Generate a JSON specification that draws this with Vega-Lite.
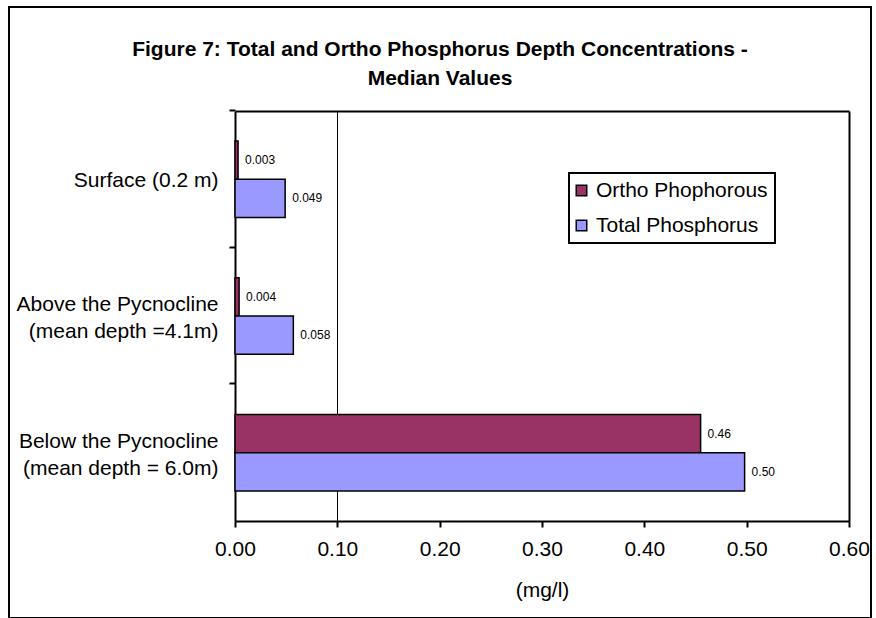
{
  "$schema": "https://vega.github.io/schema/vega-lite/v6.json",
  "width": 862,
  "height": 611,
  "autosize": {"type": "none"},
  "padding": {"left": 9, "top": 7, "right": 5, "bottom": 0},
  "background": "white",
  "title": {
    "text": ["Figure 7: Total and Ortho Phosphorus Depth Concentrations -", "Median Values"],
    "font": "Liberation Sans",
    "fontSize": 21,
    "fontWeight": "bold",
    "color": "black",
    "anchor": "middle",
    "frame": "group",
    "baseline": "alphabetic",
    "lineHeight": 29,
    "offset": -99
  },
  "data": {
    "values": [
      {"depth": "Surface (0.2 m)", "series": "Ortho Phophorous", "value": 0.003, "label": "0.003"},
      {"depth": "Surface (0.2 m)", "series": "Total Phosphorus", "value": 0.049, "label": "0.049"},
      {"depth": "Above the Pycnocline\n(mean depth =4.1m)", "series": "Ortho Phophorous", "value": 0.004, "label": "0.004"},
      {"depth": "Above the Pycnocline\n(mean depth =4.1m)", "series": "Total Phosphorus", "value": 0.057, "label": "0.058"},
      {"depth": "Below the Pycnocline\n(mean depth = 6.0m)", "series": "Ortho Phophorous", "value": 0.455, "label": "0.46"},
      {"depth": "Below the Pycnocline\n(mean depth = 6.0m)", "series": "Total Phosphorus", "value": 0.498, "label": "0.50"}
    ]
  },
  "layer": [
    {
      "mark": {"type": "bar", "stroke": "black", "strokeWidth": 1.5},
      "encoding": {
        "y": {
          "field": "depth",
          "type": "nominal",
          "sort": null,
          "scale": {"range": [104, 514], "paddingInner": 0.44, "paddingOuter": 0.22},
          "axis": {
            "orient": "left",
            "offset": -226,
            "title": null,
            "labelExpr": "split(datum.value, '\\n')",
            "labelFont": "Liberation Sans",
            "labelFontSize": 21,
            "labelLineHeight": 27,
            "labelColor": "black",
            "labelAlign": "right",
            "labelBaseline": "middle",
            "labelOffset": {"condition": {"test": "indexof(datum.value, '\\n') >= 0", "value": -11}, "value": 2},
            "labelPadding": 11,
            "labelLimit": 0,
            "tickSize": 6,
            "tickWidth": 2,
            "tickColor": "black",
            "bandPosition": -0.401,
            "domainColor": "black",
            "domainWidth": 2,
            "grid": false
          }
        },
        "yOffset": {"field": "series", "type": "nominal", "sort": ["Ortho Phophorous", "Total Phosphorus"]},
        "x": {
          "field": "value",
          "type": "quantitative",
          "scale": {"domain": [0, 0.6], "range": [226, 840], "nice": false},
          "axis": {
            "orient": "bottom",
            "offset": -97,
            "values": [0, 0.1, 0.2, 0.3, 0.4, 0.5, 0.6],
            "format": ".2f",
            "grid": false,
            "labelFont": "Liberation Sans",
            "labelFontSize": 21,
            "labelColor": "black",
            "labelBaseline": "alphabetic",
            "labelPadding": 28,
            "labelFlush": false,
            "labelOverlap": false,
            "tickSize": 6,
            "tickWidth": 2,
            "tickColor": "black",
            "domainColor": "black",
            "domainWidth": 2,
            "title": "(mg/l)",
            "titleFont": "Liberation Sans",
            "titleFontSize": 21,
            "titleFontWeight": "normal",
            "titleColor": "black",
            "titleBaseline": "alphabetic",
            "titleY": 75
          }
        },
        "color": {
          "field": "series",
          "type": "nominal",
          "scale": {"domain": ["Ortho Phophorous", "Total Phosphorus"], "range": ["#993366", "#9999FF"]},
          "legend": {
            "title": null,
            "orient": "none",
            "legendX": 560,
            "legendY": 166,
            "direction": "vertical",
            "symbolType": "square",
            "symbolSize": 110,
            "symbolStrokeColor": "black",
            "symbolStrokeWidth": 1.5,
            "symbolOpacity": 1,
            "symbolOffset": -5,
            "labelFont": "Liberation Sans",
            "labelFontSize": 21,
            "labelColor": "black",
            "labelOffset": 4,
            "labelLimit": 0,
            "rowPadding": 13,
            "padding": 7,
            "strokeColor": "black",
            "fillColor": "white"
          }
        }
      }
    },
    {
      "mark": {"type": "text", "align": "left", "baseline": "middle", "dx": 7, "fontSize": 12, "font": "Liberation Sans", "color": "black"},
      "encoding": {
        "y": {
          "field": "depth",
          "type": "nominal",
          "sort": null,
          "axis": {"orient": "right", "offset": -22, "title": null, "labels": false, "ticks": false, "grid": false, "domainColor": "black", "domainWidth": 2}
        },
        "yOffset": {"field": "series", "type": "nominal", "sort": ["Ortho Phophorous", "Total Phosphorus"]},
        "x": {
          "field": "value",
          "type": "quantitative",
          "axis": {"orient": "top", "offset": -104, "title": null, "labels": false, "ticks": false, "values": [0.1], "grid": true, "gridColor": "black", "gridWidth": 1, "gridOpacity": 1, "domainColor": "black", "domainWidth": 2}
        },
        "text": {"field": "label", "type": "nominal"}
      }
    }
  ],
  "resolve": {"axis": {"x": "independent", "y": "independent"}},
  "config": {
    "font": "Liberation Sans",
    "view": {"stroke": "black", "strokeWidth": 2, "fill": "white"},
    "legend": {"strokeWidth": 2}
  }
}
